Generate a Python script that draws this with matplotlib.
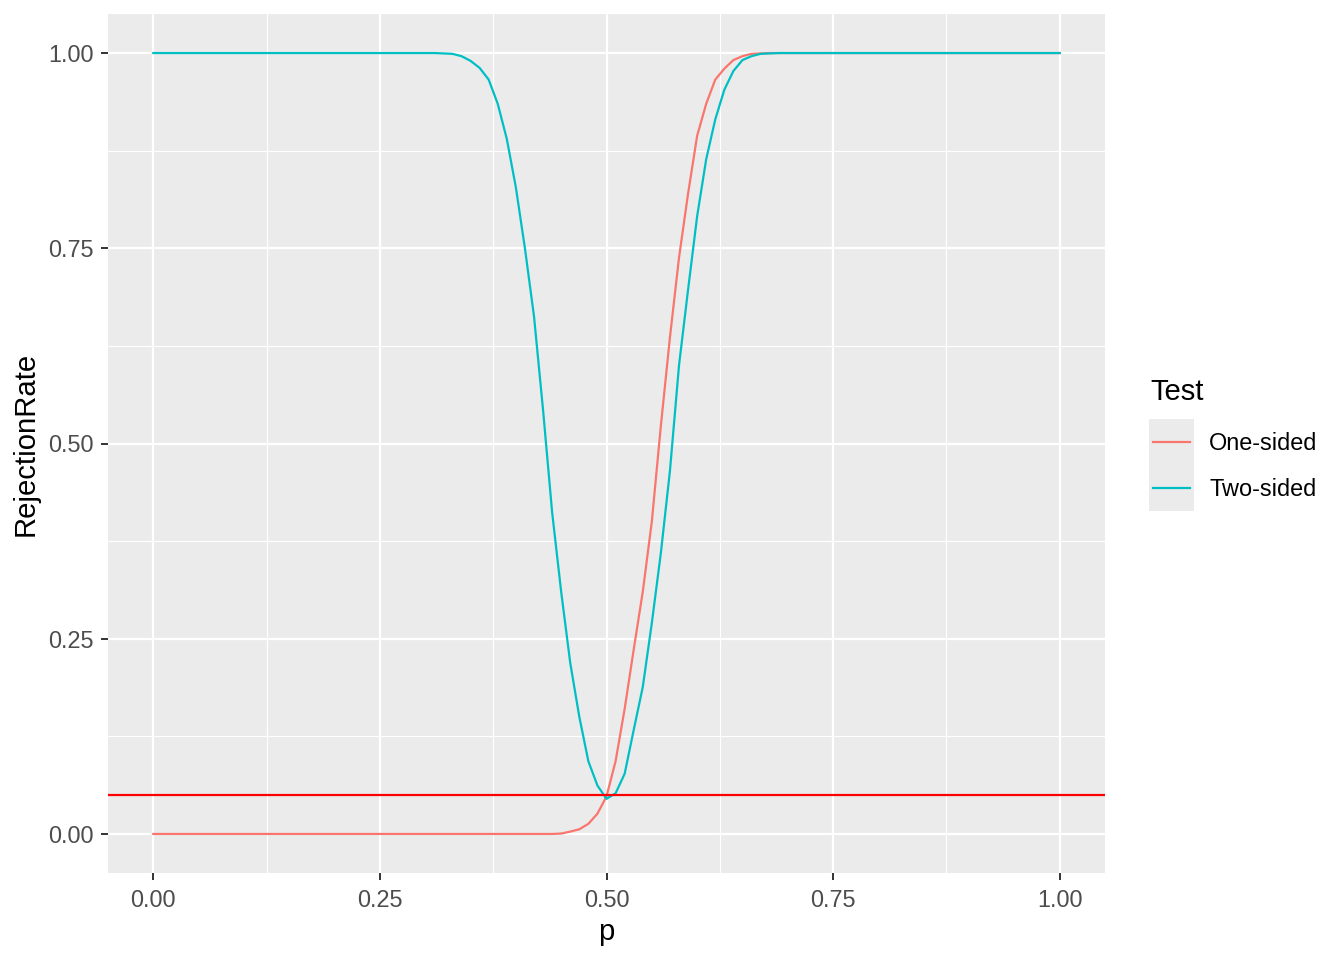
import numpy as np
import matplotlib.pyplot as plt
from matplotlib.lines import Line2D
from matplotlib.patches import Rectangle

plt.rcParams['font.family'] = ['Liberation Sans', 'DejaVu Sans']

# rejection rates, p = 0.00 ... 1.00 in steps of 0.01
p = np.round(np.arange(0, 101) / 100, 2)

one_mid = [0.0005, 0.003, 0.006, 0.013, 0.026, 0.048, 0.093, 0.160, 0.236, 0.310,
           0.400, 0.523, 0.636, 0.738, 0.820, 0.894, 0.935, 0.966, 0.980, 0.991,
           0.996, 0.999, 0.9995]   # p = 0.45 ... 0.67
one_sided = [0.0] * 45 + one_mid + [1.0] * 33

two_mid = [1.0, 0.9995, 0.999, 0.996, 0.990, 0.981, 0.966, 0.935, 0.890, 0.828,
           0.750, 0.663, 0.543, 0.412, 0.310, 0.219, 0.150, 0.093, 0.062, 0.045,
           0.052, 0.077, 0.133, 0.188, 0.270, 0.360, 0.465, 0.600, 0.697, 0.791,
           0.864, 0.915, 0.953, 0.977, 0.991, 0.996, 0.999, 0.9995]   # p = 0.31 ... 0.68
two_sided = [1.0] * 31 + two_mid + [1.0] * 32

tests = ['One-sided', 'Two-sided']
colors = ['#F8766D', '#00BFC4']
alpha = 0.05

W, H = 1344, 960
fig = plt.figure(figsize=(13.44, 9.6), dpi=100)
ax = fig.add_axes([108 / W, 87 / H, 997 / W, 859 / H])
ax.set_facecolor('#EBEBEB')

ax.plot(p, one_sided, color=colors[0], lw=1.6)
ax.plot(p, two_sided, color=colors[1], lw=1.6)
ax.axhline(alpha, color='#FF0000', lw=1.6)

ax.set_xlim(-0.05, 1.05)
ax.set_ylim(-0.05, 1.05)
ticks = [0, 0.25, 0.5, 0.75, 1.0]
labels = ['0.00', '0.25', '0.50', '0.75', '1.00']
ax.set_xticks(ticks)
ax.set_yticks(ticks)
ax.set_xticklabels(labels)
ax.set_yticklabels(labels)
ax.set_xticks([0.125, 0.375, 0.625, 0.875], minor=True)
ax.set_yticks([0.125, 0.375, 0.625, 0.875], minor=True)
ax.grid(True, which='major', color='white', lw=1.6)
ax.grid(True, which='minor', color='white', lw=0.8)
ax.set_axisbelow(True)
for s in ax.spines.values():
    s.set_visible(False)
ax.tick_params(which='major', length=5.2, width=1.4, color='#333333',
               labelsize=16.9, labelcolor='#4D4D4D')
ax.tick_params(axis='x', which='major', pad=6)
ax.tick_params(axis='y', which='major', pad=5)
ax.tick_params(which='minor', length=0)

ax.set_xlabel('p', fontsize=21.1, labelpad=5)
ax.set_ylabel('RejectionRate', fontsize=21.1, labelpad=6)

# legend drawn ggplot style
fig.text(1150 / W, 1 - 392 / H, 'Test', fontsize=21.1, va='center', ha='left')
fig.add_artist(Rectangle((1149 / W, 1 - 511 / H), 45 / W, 92 / H,
                         transform=fig.transFigure, color='#EBEBEB', lw=0))
for i, (name, c) in enumerate(zip(tests, colors)):
    yc = 1 - (442 + 46 * i) / H
    fig.add_artist(Line2D([1153 / W, 1190 / W], [yc, yc], transform=fig.transFigure,
                          color=c, lw=1.6))
    fig.text(1209 / W, yc - 2 / H, name, fontsize=16.9, va='center', ha='left')

fig.savefig('out.png', dpi=100)
